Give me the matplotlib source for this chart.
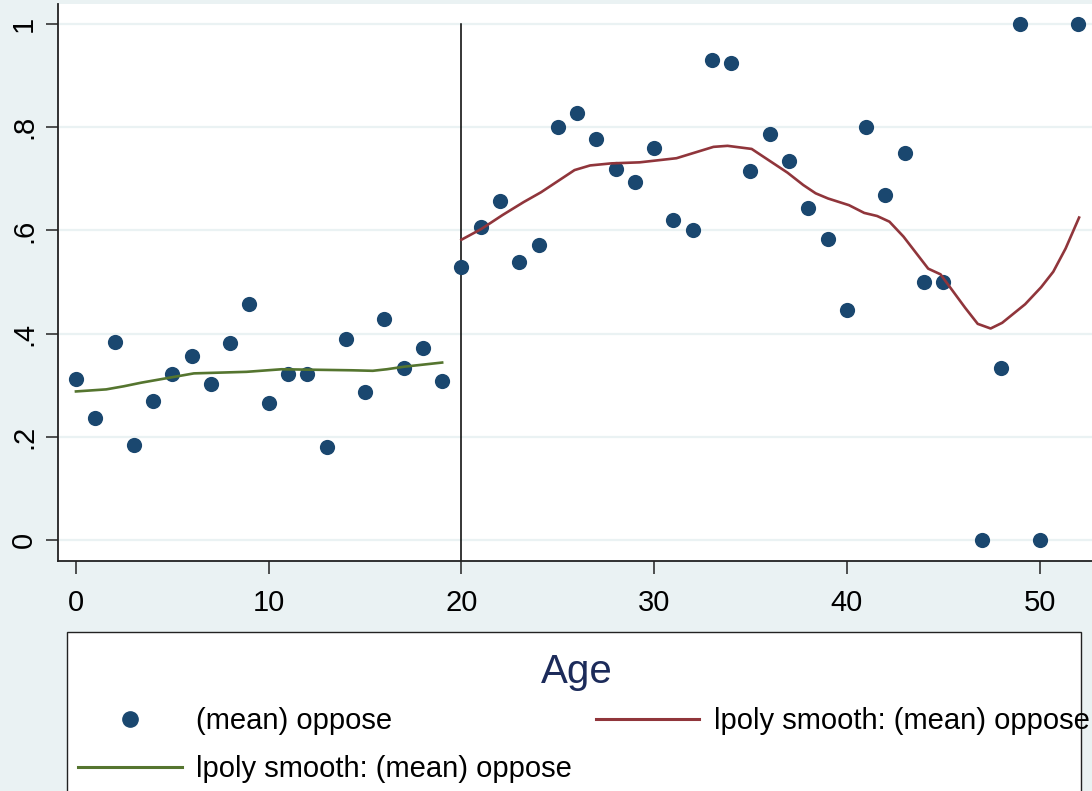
import matplotlib
matplotlib.use('Agg')
import matplotlib.pyplot as plt
from matplotlib.lines import Line2D
from matplotlib.patches import Rectangle

plt.rcParams['font.family'] = ['Liberation Sans', 'DejaVu Sans']

# Datos: promedio de "oppose" por edad
edad = [0, 1, 2, 3, 4, 5, 6, 7, 8, 9, 10, 11, 12, 13, 14, 15, 16, 17, 18, 19,
        20, 21, 22, 23, 24, 25, 26, 27, 28, 29, 30, 31, 32, 33, 34, 35, 36, 37, 38, 39,
        40, 41, 42, 43, 44, 45, 47, 48, 49, 50, 52]
oppose = [0.313, 0.237, 0.384, 0.184, 0.269, 0.321, 0.357, 0.302, 0.381, 0.457,
          0.266, 0.322, 0.322, 0.180, 0.390, 0.286, 0.428, 0.333, 0.372, 0.308,
          0.530, 0.607, 0.658, 0.539, 0.571, 0.801, 0.828, 0.778, 0.720, 0.694,
          0.760, 0.620, 0.601, 0.930, 0.924, 0.716, 0.787, 0.734, 0.644, 0.583,
          0.445, 0.801, 0.668, 0.751, 0.500, 0.500, 0.0, 0.333, 1.0, 0.0, 1.0]

# Suavizado lpoly antes del corte (edad < 20)
x_antes = [0, 1.57, 2.48, 3.39, 4.3, 6.12, 8.85, 10.67, 14.31, 15.4, 16.13, 17.04, 19.0]
y_antes = [0.288, 0.292, 0.298, 0.305, 0.311, 0.323, 0.326, 0.331, 0.329, 0.328, 0.331, 0.336, 0.344]

# Suavizado lpoly despues del corte (edad >= 20)
x_despues = [20.0, 21.04, 22.14, 23.23, 24.13, 25.87, 26.68, 27.78, 29.25, 31.16, 33.08,
             33.81, 35.06, 36.92, 37.74, 38.38, 39.02, 40.11, 40.9, 41.57, 42.21, 42.94,
             44.22, 44.86, 46.14, 46.79, 47.46, 48.06, 49.25, 50.08, 50.71, 51.35, 52.05]
y_despues = [0.582, 0.603, 0.630, 0.655, 0.674, 0.717, 0.726, 0.730, 0.732, 0.740, 0.762,
             0.764, 0.758, 0.712, 0.688, 0.672, 0.662, 0.649, 0.634, 0.628, 0.617, 0.588,
             0.526, 0.515, 0.450, 0.419, 0.410, 0.421, 0.457, 0.490, 0.520, 0.565, 0.625]

corte = 20
yticks = [0, 0.2, 0.4, 0.6, 0.8, 1.0]
ytick_labels = ['0', '.2', '.4', '.6', '.8', '1']
xticks = [0, 10, 20, 30, 40, 50]

navy = '#1a476f'
maroon = '#90353b'
verde = '#55752f'
fondo = '#eaf2f3'

fig = plt.figure(figsize=(10.92, 7.91), dpi=100, facecolor=fondo)
ax = fig.add_axes([0.0528, 0.2911, 0.9472, 0.7038])
ax.set_facecolor('white')

# Lineas de la grilla
for y in yticks:
    ax.axhline(y, color=fondo, lw=1.6, zorder=0)

ax.scatter(edad, oppose, s=120, color=navy, zorder=3, linewidths=0)
ax.plot(x_despues, y_despues, color=maroon, lw=1.9, zorder=4)
ax.plot(x_antes, y_antes, color=verde, lw=1.9, zorder=4)
ax.plot([corte, corte], [1.0, -0.0401], color='black', lw=1.1, zorder=2)

ax.set_xlim(-0.95, 52.72)
ax.set_ylim(-0.0401, 1.0388)
ax.set_xticks(xticks)
ax.set_yticks(yticks)
ax.set_yticklabels(ytick_labels, rotation=90, va='center')
ax.tick_params(axis='both', labelsize=21, length=9, width=1.1, color='#222222')
ax.tick_params(axis='x', pad=11)
ax.tick_params(axis='y', pad=5)
for lado in ['top', 'right']:
    ax.spines[lado].set_visible(False)
for lado in ['left', 'bottom']:
    ax.spines[lado].set_linewidth(1.3)
    ax.spines[lado].set_color('#222222')

# Caja de la leyenda (se sale por abajo de la figura)
caja = Rectangle((67 / 1092, -0.05), (1081 - 67) / 1092, 0.05 + (791 - 632) / 791,
                 transform=fig.transFigure, facecolor='white', edgecolor='#222222',
                 lw=1.0, zorder=1)
fig.patches.append(caja)

fig.text(577 / 1092, 1 - 672 / 791, 'Age', fontsize=29, color='#1c2b5a',
         ha='center', va='center')

handles = [
    Line2D([], [], marker='o', ls='none', color=navy, markersize=11),
    Line2D([], [], color=verde, lw=2.2),
    Line2D([], [], color=maroon, lw=2.2),
]
etiquetas = ['(mean) oppose', 'lpoly smooth: (mean) oppose', 'lpoly smooth: (mean) oppose']
fig.legend(handles, etiquetas, ncol=2, frameon=False, fontsize=21,
           loc='upper left', bbox_to_anchor=(78 / 1092, 1 - 707 / 791),
           borderpad=0, borderaxespad=0, handlelength=3.56, handletextpad=0.5,
           columnspacing=0.8, labelspacing=0.69)

plt.savefig('out.png', dpi=100, facecolor=fondo)
plt.close()
